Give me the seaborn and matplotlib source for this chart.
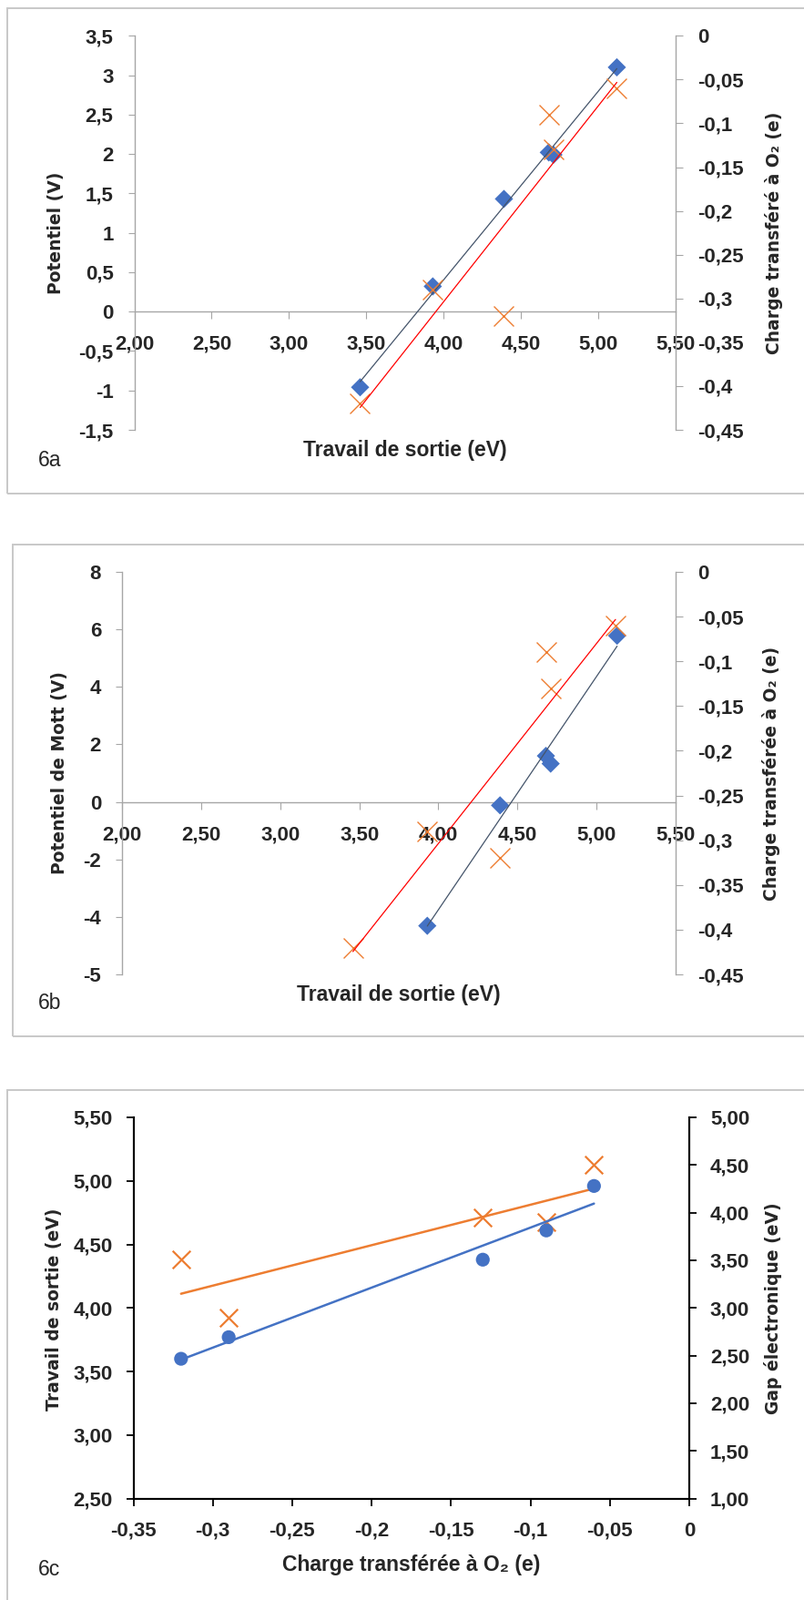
import numpy as np
import matplotlib
matplotlib.use("Agg")
import matplotlib.pyplot as plt
import seaborn as sns
from matplotlib.patches import Rectangle

# ---------------------------------------------------------------------------
# Data
# ---------------------------------------------------------------------------
# 6a : work function -> potential (left) / charge on O2 (right)
wf_6a        = [3.46, 3.93, 4.39, 4.68, 4.71, 5.12]
potentiel_6a = [-0.96, 0.32, 1.43, 2.02, 1.99, 3.10]

# charge transferred to O2, shared by 6a and 6b (right axis)
wf_charge = [3.46, 3.93, 4.39, 4.68, 4.71, 5.12]
charge_o2 = [-0.42, -0.29, -0.32, -0.09, -0.13, -0.06]

# 6b : work function -> Mott potential (left)
wf_6b   = [3.93, 4.39, 4.68, 4.71, 5.13]
mott_6b = [-4.31, -0.12, 1.60, 1.33, 5.78]

# 6c : charge on O2 -> work function (left) / electronic gap (right)
charge_6c = [-0.32, -0.29, -0.13, -0.09, -0.06]
wf_6c     = [3.60, 3.77, 4.38, 4.61, 4.96]
gap_6c    = [3.51, 2.90, 3.95, 3.90, 4.50]

# tick positions / labels
wf_ticks      = [2.0, 2.5, 3.0, 3.5, 4.0, 4.5, 5.0, 5.5]
wf_labels     = ["2,00", "2,50", "3,00", "3,50", "4,00", "4,50", "5,00", "5,50"]
pot_ticks     = [-1.5, -1.0, -0.5, 0.0, 0.5, 1.0, 1.5, 2.0, 2.5, 3.0, 3.5]
pot_labels    = ["-1,5", "-1", "-0,5", "0", "0,5", "1", "1,5", "2", "2,5", "3", "3,5"]
mott_ticks    = [-6, -4, -2, 0, 2, 4, 6, 8]
mott_labels   = ["-5", "-4", "-2", "0", "2", "4", "6", "8"]
charge_ticks  = [-0.45, -0.40, -0.35, -0.30, -0.25, -0.20, -0.15, -0.10, -0.05, 0.0]
charge_labels = ["-0,45", "-0,4", "-0,35", "-0,3", "-0,25", "-0,2", "-0,15", "-0,1", "-0,05", "0"]
q6c_ticks     = [-0.35, -0.30, -0.25, -0.20, -0.15, -0.10, -0.05, 0.0]
q6c_labels    = ["-0,35", "-0,3", "-0,25", "-0,2", "-0,15", "-0,1", "-0,05", "0"]
wf6c_ticks    = [2.5, 3.0, 3.5, 4.0, 4.5, 5.0, 5.5]
wf6c_labels   = ["2,50", "3,00", "3,50", "4,00", "4,50", "5,00", "5,50"]
gap_ticks     = [1.0, 1.5, 2.0, 2.5, 3.0, 3.5, 4.0, 4.5, 5.0]
gap_labels    = ["1,00", "1,50", "2,00", "2,50", "3,00", "3,50", "4,00", "4,50", "5,00"]

# ---------------------------------------------------------------------------
# Style
# ---------------------------------------------------------------------------
sns.set_style("white")
plt.rcParams["font.family"] = ["DejaVu Sans"]

BLUE   = "#4472C4"
ORANGE = "#ED7D31"
RED    = "#FF0000"
DARK   = "#44546A"
GRAY   = "#A6A6A6"
FRAME  = "#C8C8C8"

SANS = ["Liberation Sans", "DejaVu Sans"]        # stands in for Calibri
TICK_KW = dict(fontsize=16, fontweight="bold", family=SANS)
XLAB_KW = dict(fontsize=16.5, fontweight="bold", family=SANS)
YLAB_KW = dict(fontsize=13.5, fontweight="bold", family=["DejaVu Sans"])

W, H = 883, 1757
fig = plt.figure(figsize=(W / 100, H / 100), dpi=100)


def px_box(left, top, right, bottom):
    """Pixel box (from top-left) -> figure fraction rect."""
    return [left / W, 1 - bottom / H, (right - left) / W, (bottom - top) / H]


def fpt(x, y):
    return x / W, 1 - y / H


def frame(left, top, right, bottom):
    fig.patches.append(Rectangle(fpt(left, bottom), (right - left) / W,
                                 (bottom - top) / H, transform=fig.transFigure,
                                 fill=False, edgecolor=FRAME, lw=1.4))


def place_labels(ax, ax2, xl, yl, yr, tag, tag_xy):
    ax.xaxis.set_label_coords(*fpt(*xl), transform=fig.transFigure)
    ax.yaxis.set_label_coords(*fpt(*yl), transform=fig.transFigure)
    ax2.yaxis.set_label_coords(*fpt(*yr), transform=fig.transFigure)
    for lab in (ax.xaxis.label, ax.yaxis.label, ax2.yaxis.label):
        lab.set_va("center")
        lab.set_ha("center")
    fig.text(*fpt(*tag_xy), tag, fontsize=16.5, family=SANS,
             ha="left", va="center")


def excel_axes(ax, ax2):
    """Gray Excel-like axes with the category axis crossing at y=0."""
    for s in ("top", "right"):
        ax.spines[s].set_visible(False)
    for s in ("top", "bottom", "left"):
        ax2.spines[s].set_visible(False)
    ax.spines["bottom"].set_position(("data", 0))   # resets ticks: do it first
    ax.spines["left"].set_color(GRAY)
    ax.spines["bottom"].set_color(GRAY)
    ax2.spines["right"].set_color(GRAY)
    for s in (ax.spines["left"], ax.spines["bottom"], ax2.spines["right"]):
        s.set_linewidth(1.0)
    ax.tick_params(axis="y", direction="out", length=5, width=0.8, color=GRAY, pad=11.5, left=True)
    ax.tick_params(axis="x", direction="out", length=6, width=0.8, color=GRAY, pad=12.5, bottom=True)
    ax2.tick_params(axis="y", direction="out", length=6, width=0.8, color=GRAY, pad=11.5, right=True)


# ===========================================================================
# 6a
# ===========================================================================
frame(8, 9, 900, 542)
ax = fig.add_axes(px_box(147.5, 39.3, 742, 472))
ax2 = ax.twinx()
excel_axes(ax, ax2)

sns.scatterplot(x=wf_6a, y=potentiel_6a, ax=ax, marker="D", s=105,
                color=BLUE, edgecolor="none", zorder=3)
sns.regplot(x=wf_6a, y=potentiel_6a, ax=ax, scatter=False, ci=None,
            color=DARK, line_kws=dict(lw=0.9, zorder=4))
sns.scatterplot(x=wf_charge, y=charge_o2, ax=ax2, marker="x", s=250,
                color=ORANGE, linewidth=1.0, zorder=3)
sns.regplot(x=wf_charge, y=charge_o2, ax=ax2, scatter=False, ci=None,
            color=RED, line_kws=dict(lw=0.9, zorder=4))

ax.set_xlim(2.0, 5.5)
ax.set_ylim(-1.5, 3.5)
ax2.set_ylim(-0.45, 0.0)
ax.set_xticks(wf_ticks, wf_labels, **TICK_KW)
ax.set_yticks(pot_ticks, pot_labels, **TICK_KW)
ax2.set_yticks(charge_ticks, charge_labels, **TICK_KW)

ax.set_xlabel("Travail de sortie (eV)", **XLAB_KW)
ax.set_ylabel("Potentiel (V)", **YLAB_KW)
ax2.set_ylabel("Charge transféré à O₂ (e)", **YLAB_KW)
place_labels(ax, ax2, (445, 495), (61, 256), (850, 256), "6a", (42, 505))

# ===========================================================================
# 6b
# ===========================================================================
frame(14, 598, 900, 1138)
ax = fig.add_axes(px_box(134, 628, 742, 1070))
ax2 = ax.twinx()
excel_axes(ax, ax2)

sns.scatterplot(x=wf_6b, y=mott_6b, ax=ax, marker="D", s=105,
                color=BLUE, edgecolor="none", zorder=3)
sns.regplot(x=wf_6b, y=mott_6b, ax=ax, scatter=False, ci=None,
            color=DARK, line_kws=dict(lw=0.9, zorder=4))
sns.scatterplot(x=wf_charge, y=charge_o2, ax=ax2, marker="x", s=250,
                color=ORANGE, linewidth=1.0, zorder=3)
sns.regplot(x=wf_charge, y=charge_o2, ax=ax2, scatter=False, ci=None,
            color=RED, line_kws=dict(lw=0.9, zorder=4))

ax.set_xlim(2.0, 5.5)
ax.set_ylim(-6, 8)
ax2.set_ylim(-0.45, 0.0)
ax.set_xticks(wf_ticks, wf_labels, **TICK_KW)
ax.set_yticks(mott_ticks, mott_labels, **TICK_KW)
ax2.set_yticks(charge_ticks, charge_labels, **TICK_KW)

ax.set_xlabel("Travail de sortie (eV)", **XLAB_KW)
ax.set_ylabel("Potentiel de Mott (V)", **YLAB_KW)
ax2.set_ylabel("Charge transférée à O₂ (e)", **YLAB_KW)
place_labels(ax, ax2, (438, 1092), (65, 849), (847, 849), "6b", (42, 1102))

# ===========================================================================
# 6c
# ===========================================================================
frame(8, 1197, 900, 1800)
ax = fig.add_axes(px_box(146.5, 1227, 757, 1645.6))
ax2 = ax.twinx()
ax.set_zorder(ax2.get_zorder() + 1)   # blue series drawn above orange
ax.patch.set_visible(False)

sns.scatterplot(x=charge_6c, y=gap_6c, ax=ax2, marker="x", s=200,
                color=ORANGE, linewidth=1.6, zorder=3)
sns.regplot(x=charge_6c, y=gap_6c, ax=ax2, scatter=False, ci=None,
            color=ORANGE, line_kws=dict(lw=1.8, zorder=4))
sns.scatterplot(x=charge_6c, y=wf_6c, ax=ax, marker="o", s=120,
                color=BLUE, edgecolor="none", zorder=3)
sns.regplot(x=charge_6c, y=wf_6c, ax=ax, scatter=False, ci=None,
            color=BLUE, line_kws=dict(lw=1.8, zorder=4))

ax.set_xlim(-0.35, 0.0)
ax.set_ylim(2.5, 5.5)
ax2.set_ylim(1.0, 5.0)

ax.spines["top"].set_visible(False)
ax2.spines["top"].set_visible(False)
for s in ("left", "bottom", "right"):
    ax.spines[s].set_color("black")
    ax.spines[s].set_linewidth(1.5)
    ax2.spines[s].set_color("black")
    ax2.spines[s].set_linewidth(1.5)
ax.tick_params(axis="y", direction="out", length=6, width=1.3, color="black", pad=10.5, left=True)
ax.tick_params(axis="x", direction="out", length=6, width=1.3, color="black", pad=12, bottom=True)
ax2.tick_params(axis="y", direction="out", length=6, width=1.3, color="black", pad=10.5, right=True)

ax.set_xticks(q6c_ticks, q6c_labels, **TICK_KW)
ax.set_yticks(wf6c_ticks, wf6c_labels, **TICK_KW)
ax2.set_yticks(gap_ticks, gap_labels, **TICK_KW)

ax.set_xlabel("Charge transférée à O₂ (e)", **XLAB_KW)
ax.set_ylabel("Travail de sortie (eV)", **YLAB_KW)
ax2.set_ylabel("Gap électronique (eV)", **YLAB_KW)
place_labels(ax, ax2, (452, 1718), (60, 1438), (849, 1437), "6c", (42, 1724))

fig.savefig("out.png", dpi=100, facecolor="white")
